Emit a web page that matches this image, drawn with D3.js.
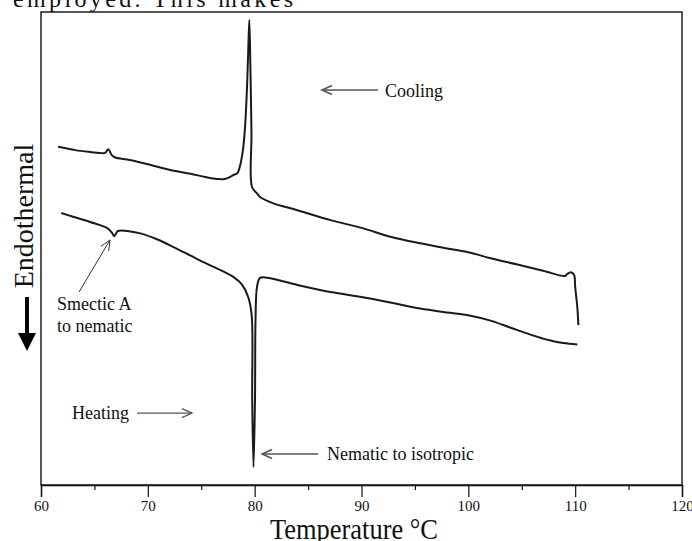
<!DOCTYPE html>
<html>
<head>
<meta charset="utf-8">
<script src="https://cdn.jsdelivr.net/npm/d3@7"></script>
<style>
  body { margin: 0; background: #fff; }
  svg { display: block; }
  text { font-family: "Liberation Serif", "Times New Roman", serif; fill: #111; }
</style>
</head>
<body>
<svg id="chart" width="692" height="541"></svg>
<script>
// DSC trace, temperature (°C) vs heat flow (arbitrary units, endothermal down)
var tempCooling = [61.6, 63.2, 64.6, 65.5, 66.0, 66.3, 66.6, 66.9, 68.3, 70.2, 72.1, 74.0, 75.4,
    76.5, 77.2, 78.0, 78.4, 78.6, 78.9, 79.1, 79.3, 79.4, 79.5, 79.6, 79.7, 79.75, 80.2, 80.5,
    81.7, 84.0, 87.1, 90.1, 92.7, 95.5, 98.3, 100.2, 102.0, 104.6, 107.0, 109.05, 109.25,
    109.6, 109.9, 110.0, 110.2, 110.3];
var flowCooling = [71.5, 70.8, 70.4, 70.2, 70.2, 71.0, 69.8, 69.3, 68.7, 67.7, 66.6, 65.8, 65.1,
    64.7, 64.7, 65.5, 66.0, 67.2, 70.8, 75.7, 85.0, 92.0, 98.3, 88.4, 74.4, 63.0, 61.7, 60.9,
    59.6, 58.1, 56.0, 54.3, 52.5, 51.1, 49.9, 49.1, 48.0, 46.6, 45.3, 44.2, 44.6,
    45.0, 44.4, 41.9, 37.6, 33.8];

var tempHeating = [61.9, 63.0, 64.6, 66.2, 66.65, 66.85, 67.2, 68.05, 69.3, 70.9, 72.5, 74.0, 75.5,
    77.0, 78.0, 78.8, 79.4, 79.72, 79.77, 79.89, 80.03, 80.08, 80.22, 80.5, 81.2, 84.0, 87.1,
    90.1, 92.7, 95.5, 98.3, 100.2, 102.0, 103.9, 105.8, 107.6, 108.9, 110.2];
var flowHeating = [57.5, 56.7, 55.6, 54.3, 53.3, 52.6, 53.7, 53.7, 53.2, 51.9, 50.2, 48.5, 46.8,
    45.2, 44.0, 42.4, 39.7, 35.9, 18.0, 3.8, 18.0, 34.9, 41.9, 43.8, 43.8, 42.3, 40.8,
    39.7, 38.6, 37.3, 36.4, 35.8, 34.8, 33.3, 31.8, 30.6, 30.0, 29.7];

var majorTicks = [60, 70, 80, 90, 100, 110, 120];
var minorTicks = [65, 75, 85, 95, 105, 115];

var svg = d3.select("#chart");

var plotLeft = 41, plotRight = 682, plotTop = 12, plotBottom = 485;

var x = d3.scaleLinear().domain([60, 120]).range([plotLeft, plotRight]);
var y = d3.scaleLinear().domain([0, 100]).range([plotBottom, plotTop]);

// bit of page text cut off above the figure
svg.append("text")
    .attr("x", 13).attr("y", 7)
    .attr("textLength", 280)
    .attr("lengthAdjust", "spacing")
    .style("font-size", "24px")
    .text("employed. This makes");

// frame
svg.append("rect")
    .attr("x", plotLeft).attr("y", plotTop)
    .attr("width", plotRight - plotLeft).attr("height", plotBottom - plotTop)
    .attr("fill", "none")
    .attr("stroke", "#111")
    .attr("stroke-width", 1.4);

// axes
var xAxis = d3.axisBottom(x).tickValues(majorTicks).tickSize(12).tickPadding(3).tickFormat(d3.format("d"));
var gx = svg.append("g").attr("transform", "translate(0," + plotBottom + ")").call(xAxis);
gx.select(".domain").attr("stroke", "#111").attr("stroke-width", 1.4);
gx.selectAll(".tick line").attr("stroke", "#111").attr("stroke-width", 1.2);
gx.selectAll(".tick text")
    .attr("fill", "#111")
    .style("font-family", "'Liberation Serif', serif")
    .style("font-size", "15px");

var gm = svg.append("g").attr("transform", "translate(0," + plotBottom + ")")
    .call(d3.axisBottom(x).tickValues(minorTicks).tickSize(5).tickFormat(""));
gm.select(".domain").remove();
gm.selectAll(".tick line").attr("stroke", "#111").attr("stroke-width", 1.2);

// axis titles
svg.append("text")
    .attr("x", 270).attr("y", 539)
    .attr("textLength", 168)
    .attr("lengthAdjust", "spacingAndGlyphs")
    .style("font-size", "30px")
    .text("Temperature °C");

svg.append("text")
    .attr("transform", "translate(33,216) rotate(-90)")
    .attr("text-anchor", "middle")
    .style("font-size", "28px")
    .text("Endothermal");

// big down arrow next to the y title
svg.append("line")
    .attr("x1", 27).attr("y1", 297).attr("x2", 27).attr("y2", 336)
    .attr("stroke", "#000").attr("stroke-width", 4);
svg.append("path")
    .attr("d", "M18,333 L36,333 L27,351 Z")
    .attr("fill", "#000");

// traces
var line = d3.line()
    .x(function(d) { return x(d[0]); })
    .y(function(d) { return y(d[1]); })
    .curve(d3.curveCatmullRom.alpha(0.5));

var cooling = d3.zip(tempCooling, flowCooling);
var heating = d3.zip(tempHeating, flowHeating);

svg.append("path")
    .datum(cooling)
    .attr("d", line)
    .attr("fill", "none")
    .attr("stroke", "#1a1a1a")
    .attr("stroke-width", 2)
    .attr("stroke-linejoin", "round");

svg.append("path")
    .datum(heating)
    .attr("d", line)
    .attr("fill", "none")
    .attr("stroke", "#1a1a1a")
    .attr("stroke-width", 2)
    .attr("stroke-linejoin", "round");

// annotations: arrow from tail to head (in data units) plus text
function arrow(t0, v0, t1, v1, color, width)
{
    var x0 = x(t0), y0 = y(v0), x1 = x(t1), y1 = y(v1);
    var a = Math.atan2(y1 - y0, x1 - x0);
    var len = 11, spread = 0.42;
    svg.append("line")
        .attr("x1", x0).attr("y1", y0).attr("x2", x1).attr("y2", y1)
        .attr("stroke", color).attr("stroke-width", width);
    svg.append("path")
        .attr("d", "M" + (x1 - len * Math.cos(a - spread)) + "," + (y1 - len * Math.sin(a - spread)) +
            " L" + x1 + "," + y1 +
            " L" + (x1 - len * Math.cos(a + spread)) + "," + (y1 - len * Math.sin(a + spread)))
        .attr("fill", "none")
        .attr("stroke", color).attr("stroke-width", width);
}

function label(px, py, str)
{
    svg.append("text")
        .attr("x", px).attr("y", py)
        .style("font-size", "18px")
        .text(str);
}

arrow(91.54, 83.5, 86.3, 83.5, "#555", 1.6);
label(385, 97, "Cooling");

arrow(85.93, 6.55, 80.69, 6.55, "#555", 1.6);
label(327, 460, "Nematic to isotropic");

arrow(68.99, 15.2, 74.13, 15.2, "#555", 1.3);
label(72, 419, "Heating");

arrow(63.56, 40.8, 66.46, 51.8, "#333", 1);
label(57, 310, "Smectic A");
label(57, 332, "to nematic");
</script>
</body>
</html>
